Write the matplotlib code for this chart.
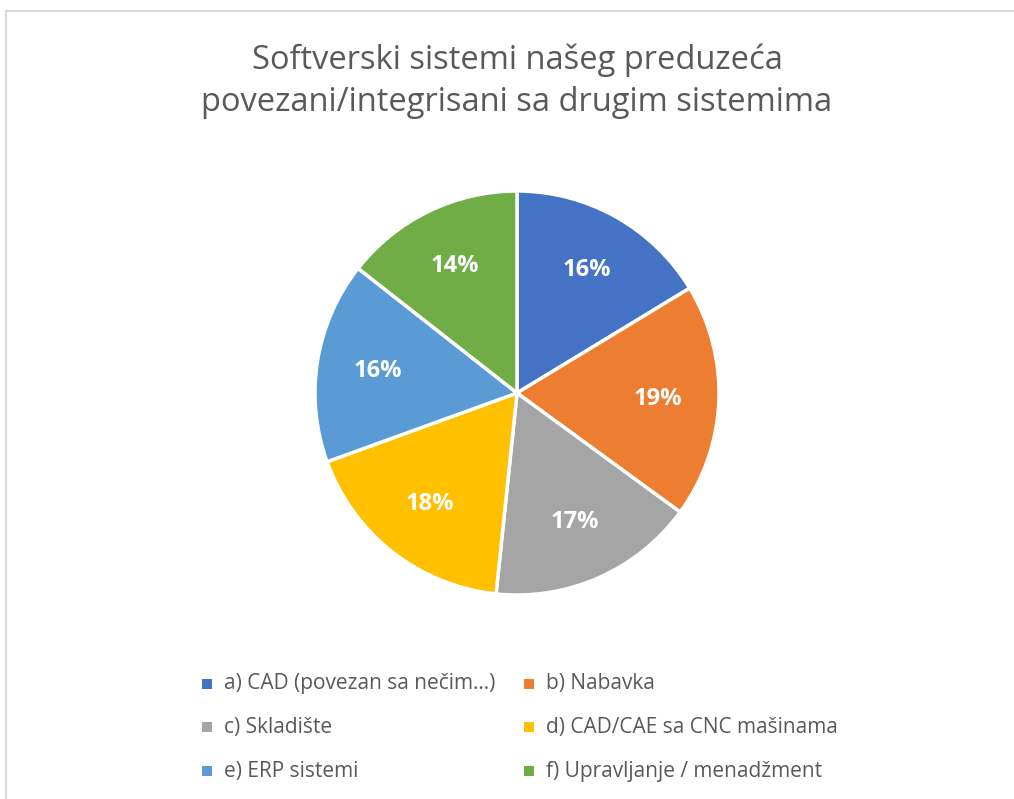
import matplotlib.pyplot as plt
from matplotlib.lines import Line2D
from matplotlib.patches import Rectangle

# data (percent of answers)
labels = [
    "a) CAD (povezan sa nečim...)",
    "b) Nabavka",
    "c) Skladište",
    "d) CAD/CAE sa CNC mašinama",
    "e) ERP sistemi",
    "f) Upravljanje / menadžment",
]
shares = [16.3, 18.7, 16.6, 17.8, 16.1, 14.4]
colors = ["#4472C4", "#ED7D31", "#A5A5A5", "#FFC000", "#5B9BD5", "#70AD47"]
title = "Softverski sistemi našeg preduzeća\npovezani/integrisani sa drugim sistemima"

TEXT_COLOR = "#595959"
plt.rcParams["font.family"] = ["Open Sans", "DejaVu Sans"]

W, H = 1014, 799
fig = plt.figure(figsize=(W / 100, H / 100), dpi=100)

# chart frame (top and left edges visible in the crop)
fig.add_artist(Line2D([6 / W, 1], [1 - 11 / H, 1 - 11 / H], color="#D9D9D9", lw=1.5))
fig.add_artist(Line2D([6 / W, 6 / W], [0, 1 - 11 / H], color="#D9D9D9", lw=1.5))

fig.text(517 / W, 1 - 81 / H, title, ha="center", va="center",
         fontsize=23.5, color=TEXT_COLOR, linespacing=1.35)

# pie axes: center (517, 393), radius 202 px
cx, cy, r = 517, 393, 202
ax = fig.add_axes([(cx - r) / W, 1 - (cy + r) / H, 2 * r / W, 2 * r / H])
wedges, texts, autotexts = ax.pie(
    shares, colors=colors, startangle=90, counterclock=False,
    autopct="%.0f%%", pctdistance=0.70,
    wedgeprops=dict(edgecolor="white", linewidth=2.5),
    textprops=dict(color="white", fontsize=17, fontweight="bold"),
)
ax.set_xlim(-1, 1)
ax.set_ylim(-1, 1)
ax.set_aspect("equal")
ax.axis("off")

# legend, two columns, row-major order
col_x = [207, 529]
row_y = [684, 727, 771]
for i, (lab, col) in enumerate(zip(labels, colors)):
    x = col_x[i % 2]
    y = row_y[i // 2]
    fig.add_artist(Rectangle(((x - 5) / W, 1 - (y + 5) / H), 10 / W, 10 / H,
                             facecolor=col, edgecolor="none"))
    fig.text((x + 17) / W, 1 - y / H, lab, ha="left", va="center",
             fontsize=15, color=TEXT_COLOR)

fig.savefig("out.png", dpi=100, facecolor="white")
